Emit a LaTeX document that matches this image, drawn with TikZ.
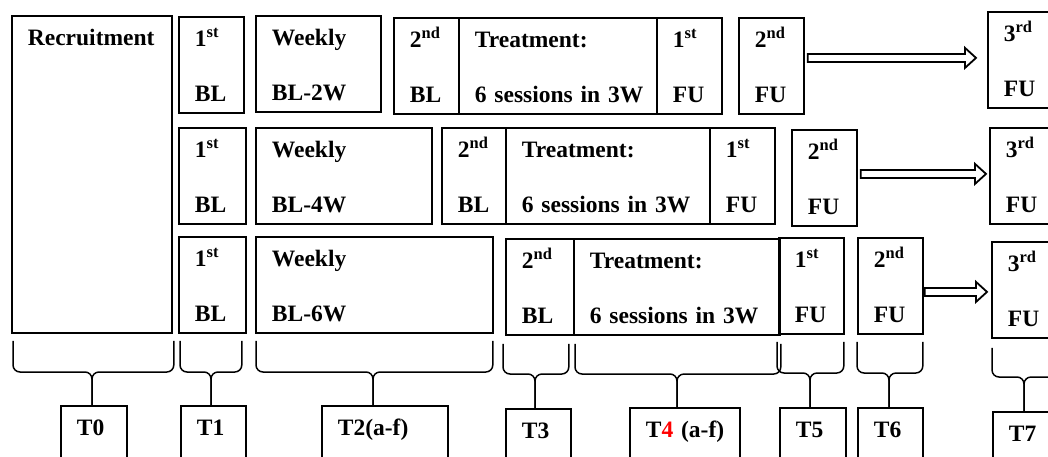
\documentclass[tikz,border=0pt]{standalone}
\usepackage{fontspec}
\setmainfont{Liberation Serif}
\usetikzlibrary{calc}
\begin{document}
\begin{tikzpicture}[x=1pt,y=-1pt]
	\tikzstyle{case}=[draw,line width=1.8pt,anchor=north west,align=left,inner xsep=16pt,inner ysep=0pt,text height=30pt,text depth=66pt,font=\bfseries\fontsize{23.5}{55}\selectfont]
	\tikzstyle{etape}=[case,text depth=40pt]
	\tikzstyle{accolade}=[draw,line width=1.5pt,rounded corners=7pt]
	\tikzstyle{fleche}=[draw,line width=1.8pt,fill=white]
	
	\useasboundingbox (0,0) rectangle (1048,456);
	
	% recrutement
	\node[case,text width=128pt,text depth=287pt] (rec) at (11,15) {Recruitment};
	
	% groupe A : BL-2W
	\node[case,text width=33pt] (Aa) at (178,16) {1\textsuperscript{st}\\BL};
	\node[case,text width=93pt] (Ab) at (255,15) {Weekly\\BL-2W};
	\node[case,text width=33pt] (Ac) at (393,17) {2\textsuperscript{nd}\\BL};
	\node[case,text width=166pt] (Ad) at (458,17) {Treatment:\\\mbox{6 sessions in 3W}};
	\node[case,text width=33pt] (Ae) at (656,17) {1\textsuperscript{st}\\FU};
	\node[case,text width=33pt] (Af) at (738,17) {2\textsuperscript{nd}\\FU};
	\node[case,text width=38pt] (Ag) at (987,11) {3\textsuperscript{rd}\\FU};
	
	% groupe B : BL-4W
	\node[case,text width=35pt] (Ba) at (178,127) {1\textsuperscript{st}\\BL};
	\node[case,text width=144pt] (Bb) at (255,127) {Weekly\\BL-4W};
	\node[case,text width=32pt] (Bc) at (441,127) {2\textsuperscript{nd}\\BL};
	\node[case,text width=172pt] (Bd) at (505,127) {Treatment:\\\mbox{6 sessions in 3W}};
	\node[case,text width=33pt] (Be) at (709,127) {1\textsuperscript{st}\\FU};
	\node[case,text width=33pt] (Bf) at (791,129) {2\textsuperscript{nd}\\FU};
	\node[case,text width=38pt] (Bg) at (989,127) {3\textsuperscript{rd}\\FU};
	
	% groupe C : BL-6W
	\node[case,text width=35pt] (Ca) at (178,236) {1\textsuperscript{st}\\BL};
	\node[case,text width=205pt] (Cb) at (255,236) {Weekly\\BL-6W};
	\node[case,text width=36pt] (Cc) at (505,238) {2\textsuperscript{nd}\\BL};
	\node[case,text width=174pt] (Cd) at (573,238) {Treatment:\\\mbox{6 sessions in 3W}};
	\node[case,text width=33pt] (Ce) at (778,237) {1\textsuperscript{st}\\FU};
	\node[case,text width=33pt] (Cf) at (857,237) {2\textsuperscript{nd}\\FU};
	\node[case,text width=38pt] (Cg) at (991,241) {3\textsuperscript{rd}\\FU};
	
	% fleches vers le 3e suivi
	\coordinate (Fa) at ([shift={(3,-8)}]Af.east);
	\coordinate (Ga) at ([shift={(-11,-2)}]Ag.west);
	\coordinate (Fb) at ([shift={(3,-4)}]Bf.east);
	\coordinate (Gb) at ([shift={(-3,-2)}]Bg.west);
	\coordinate (Fc) at ([shift={(1,6)}]Cf.east);
	\coordinate (Gc) at ([shift={(-4,2)}]Cg.west);
	\draw[fleche] ($(Fa)+(0,-4)$) -- ($(Ga)+(-11,-4)$) -- ($(Ga)+(-11,-10)$) -- (Ga) -- ($(Ga)+(-11,10)$) -- ($(Ga)+(-11,4)$) -- ($(Fa)+(0,4)$) -- cycle;
	\draw[fleche] ($(Fb)+(0,-4)$) -- ($(Gb)+(-11,-4)$) -- ($(Gb)+(-11,-10)$) -- (Gb) -- ($(Gb)+(-11,10)$) -- ($(Gb)+(-11,4)$) -- ($(Fb)+(0,4)$) -- cycle;
	\draw[fleche] ($(Fc)+(0,-4)$) -- ($(Gc)+(-11,-4)$) -- ($(Gc)+(-11,-10)$) -- (Gc) -- ($(Gc)+(-11,10)$) -- ($(Gc)+(-11,4)$) -- ($(Fc)+(0,4)$) -- cycle;
	
	% temps de mesure
	\node[etape,text width=34pt] (T0) at (60,405) {T0};
	\node[etape,text width=33pt] (T1) at (180,405) {T1};
	\node[etape,text width=94pt] (T2) at (321,405) {T2(a-f)};
	\node[etape,text width=33pt] (T3) at (505,408) {T3};
	\node[etape,text width=78pt] (T4) at (629,407) {\mbox{T\textcolor{red}{4} (a-f)}};
	\node[etape,text width=34pt] (T5) at (779,407) {T5};
	\node[etape,text width=33pt] (T6) at (857,407) {T6};
	\node[etape,text width=38pt] (T7) at (992,411) {T7};
	
	\coordinate (m0) at (92,372);
	\coordinate (m1) at (211,372);
	\coordinate (m2) at (373,372);
	\coordinate (m3) at (535,374);
	\coordinate (m4) at (677,374);
	\coordinate (m5) at (810,373);
	\coordinate (m6) at (889,373);
	\coordinate (m7) at (1024,377);
	
	\draw[accolade] ([shift={(2,7)}]rec.south west) |- (m0) -- (m0 |- T0.north);
	\draw[accolade] ([shift={(1,7)}]rec.south east) |- (m0) -- (m0 |- T0.north);
	\draw[accolade] ([shift={(2,7)}]Ca.south west) |- (m1) -- (m1 |- T1.north);
	\draw[accolade] ([shift={(-5,7)}]Ca.south east) |- (m1) -- (m1 |- T1.north);
	\draw[accolade] ([shift={(1,7)}]Cb.south west) |- (m2) -- (m2 |- T2.north);
	\draw[accolade] ([shift={(-1,7)}]Cb.south east) |- (m2) -- (m2 |- T2.north);
	\draw[accolade] ([shift={(-2,8)}]Cc.south west) |- (m3) -- (m3 |- T3.north);
	\draw[accolade] ([shift={(-6,8)}]Cc.south east) |- (m3) -- (m3 |- T3.north);
	\draw[accolade] ([shift={(2,8)}]Cd.south west) |- (m4) -- (m4 |- T4.north);
	\draw[accolade] ([shift={(0,8)}]Cd.south east) |- (m4) -- (m4 |- T4.north);
	\draw[accolade] ([shift={(-1,7)}]Ce.south west) |- (m5) -- (m5 |- T5.north);
	\draw[accolade] ([shift={(-1,7)}]Ce.south east) |- (m5) -- (m5 |- T5.north);
	\draw[accolade] ([shift={(0,7)}]Cf.south west) |- (m6) -- (m6 |- T6.north);
	\draw[accolade] ([shift={(-1,7)}]Cf.south east) |- (m6) -- (m6 |- T6.north);
	\draw[accolade] ([shift={(1,9)}]Cg.south west) |- (m7) -- (m7 |- T7.north);
	\draw[accolade] ([shift={(-5,9)}]Cg.south east) |- (m7) -- (m7 |- T7.north);
\end{tikzpicture}
\end{document}
